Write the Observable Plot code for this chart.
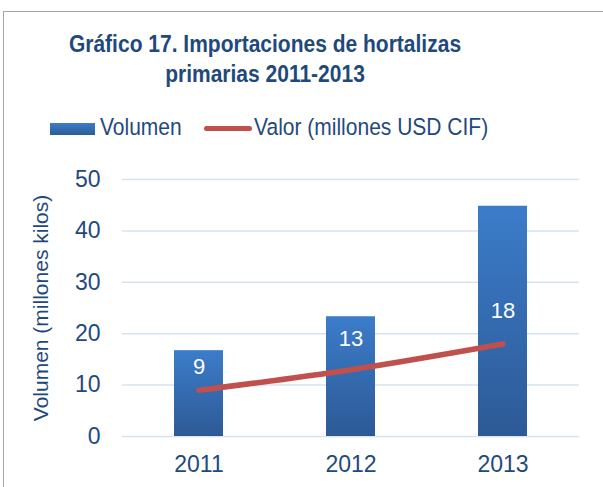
<!DOCTYPE html>
<html>
<head>
<meta charset="utf-8">
<script src="https://cdn.jsdelivr.net/npm/d3@7"></script>
<script src="https://cdn.jsdelivr.net/npm/@observablehq/plot@0.6"></script>
<style>
  html, body { margin: 0; padding: 0; background: #fff; }
  body { width: 603px; height: 487px; position: relative; overflow: hidden; font-family: "Liberation Sans", Arial, sans-serif; }
  #frame { position: absolute; left: 3px; top: 11px; width: 700px; height: 600px; border: 1.5px solid #a6a6a6; box-sizing: border-box; }
  #title { position: absolute; left: 265px; top: 30px; transform: translateX(-50%) scaleY(1.12); transform-origin: 50% 0; white-space: nowrap; text-align: center; font-weight: bold; font-size: 21px; line-height: 26px; color: #1F497D; z-index: 2; }
  .leg { position: absolute; top: 115px; font-size: 21px; line-height: 24px; color: #1F497D; white-space: nowrap; transform: scaleY(1.1); transform-origin: 0 50%; z-index: 2; }
  .sw { position: absolute; z-index: 2; }
  #chart { position: absolute; left: 0; top: 0; z-index: 1; }
</style>
</head>
<body>
<div id="frame"></div>
<div id="title">Gráfico 17. Importaciones de hortalizas<br>primarias 2011-2013</div>
<div class="sw" style="left:50px;top:123px;width:45px;height:12px;background:linear-gradient(#3b7cc9,#2d5b97);"></div>
<div class="leg" style="left:100px;">Volumen</div>
<div class="sw" style="left:204px;top:126px;width:48px;height:5px;border-radius:3px;background:#C0504D;"></div>
<div class="leg" style="left:254px;">Valor (millones USD CIF)</div>
<div id="chart"></div>
<script>
const years = ["2011", "2012", "2013"];
const volumen = [16.7, 23.3, 44.8];
const valor = [9, 13, 18];
const yTicks = [0, 10, 20, 30, 40, 50];
const yLabel = "Volumen (millones kilos)";

const rows = years.map((y, i) => ({year: y, volumen: volumen[i], valor: valor[i]}));
const yMid = (yTicks[0] + yTicks[yTicks.length - 1]) / 2;

const defs = () => {
  const d = d3.create("svg:defs");
  const g = d.append("linearGradient").attr("id", "barGrad").attr("x1", 0).attr("y1", 0).attr("x2", 0).attr("y2", 1);
  g.append("stop").attr("offset", "0%").attr("stop-color", "#3b7cc9");
  g.append("stop").attr("offset", "100%").attr("stop-color", "#2d5a96");
  const f = d.append("filter").attr("id", "shadow").attr("x", "-20%").attr("y", "-20%").attr("width", "150%").attr("height", "150%");
  f.append("feDropShadow").attr("dx", 2).attr("dy", 2).attr("stdDeviation", 1.5).attr("flood-color", "#000").attr("flood-opacity", 0.25);
  return d.node();
};

const label = (i, dy) => Plot.text(rows, {
  filter: (d, j) => j === i, x: "year", y: "valor", text: d => String(d.valor),
  fill: "white", fontSize: 22, dy
});

const chart = Plot.plot({
  width: 603,
  height: 487,
  marginLeft: 122,
  marginRight: 24,
  marginTop: 179,
  marginBottom: 51,
  style: {fontFamily: "'Liberation Sans', Arial, sans-serif", color: "#1F497D", background: "transparent", overflow: "visible"},
  x: {domain: years, paddingInner: 0.68, paddingOuter: 0.34, align: 0.5},
  y: {domain: [0, 50]},
  marks: [
    defs,
    Plot.gridY(yTicks, {stroke: "#d6e2f1", strokeOpacity: 1, strokeWidth: 1.5}),
    Plot.axisY(yTicks, {tickSize: 0, tickPadding: 22, fontSize: 23, fill: "#1F497D", label: null}),
    Plot.axisX({tickSize: 0, tickPadding: 19, fontSize: 23, fill: "#1F497D", label: null}),
    Plot.barY(rows, {x: "year", y: "volumen", fill: "url(#barGrad)", style: {filter: "url(#shadow)"}}),
    Plot.line(rows, {x: "year", y: "valor", stroke: "#C0504D", strokeWidth: 5.5, strokeLinecap: "round", curve: "catmull-rom"}),
    label(0, -23),
    label(1, -31),
    label(2, -33),
    Plot.text([{t: yLabel, v: yMid}], {text: "t", y: "v", frameAnchor: "left", textAnchor: "middle", dx: -81, rotate: -90, fontSize: 21, fill: "#1F497D"})
  ]
});
document.getElementById("chart").appendChild(chart);
</script>
</body>
</html>
